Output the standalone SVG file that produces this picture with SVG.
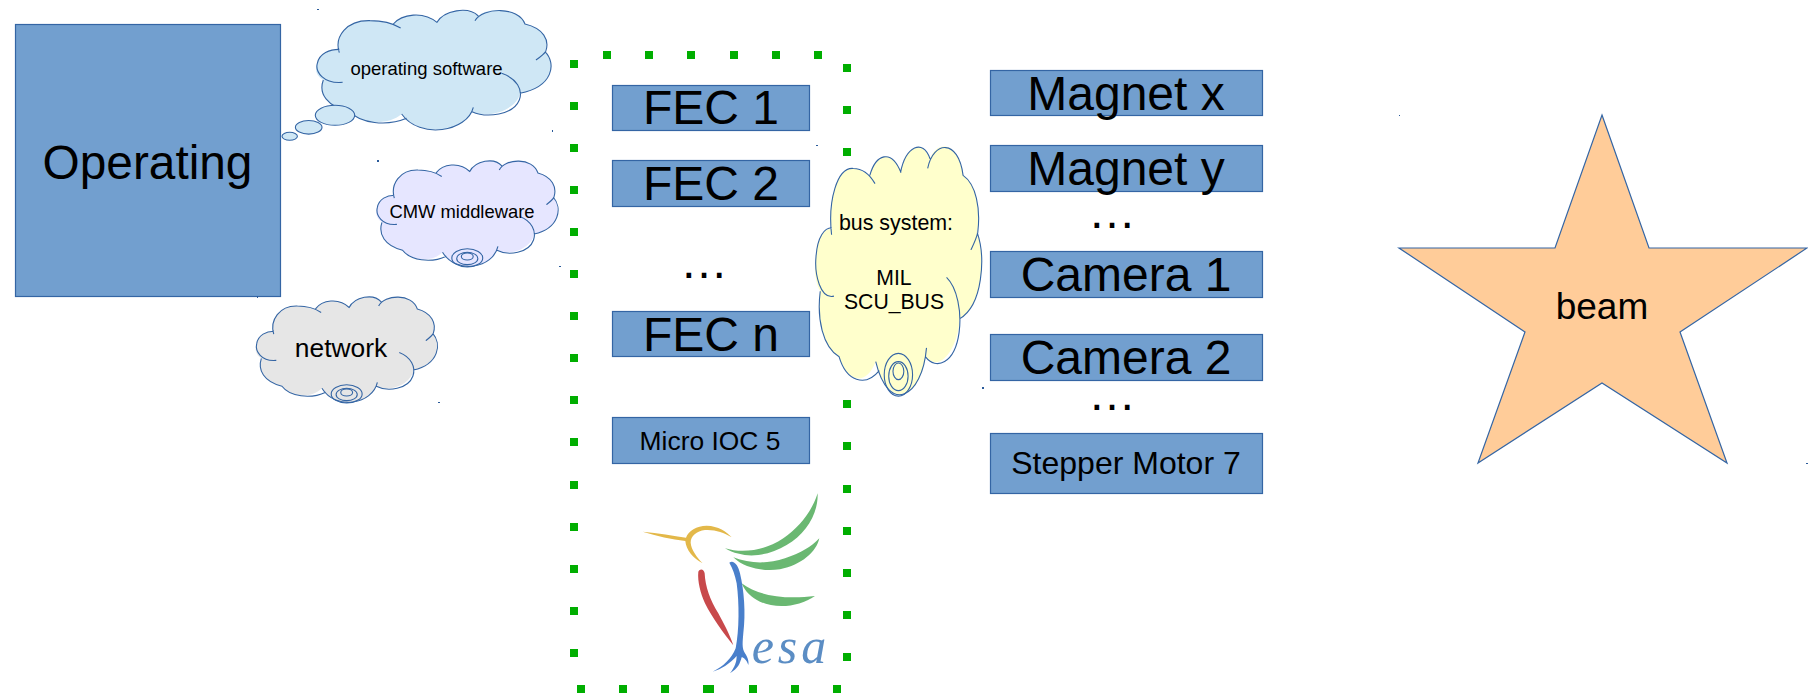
<svg xmlns="http://www.w3.org/2000/svg" width="1808" height="693" viewBox="0 0 1808 693">
<style>
text{font-family:"Liberation Sans",Arial,sans-serif;fill:#000;text-anchor:middle}
.box{fill:#729fcf;stroke:#3465a4;stroke-width:1.2}
.t48{font-size:48px}
.dot{fill:#00ae00}
.mark{fill:#2a5a9a}
.ln{fill:none;stroke:#3465a4;stroke-width:1.1;vector-effect:non-scaling-stroke}
.sh{fill:inherit;stroke:#3465a4;stroke-width:1.1;vector-effect:non-scaling-stroke}
</style>
<defs>
<g id="cloud">
<path stroke="none" d="M238,150C222,110 260,60 330,62C355,62 380,68 400,72C430,40 490,35 530,65C560,28 620,20 655,48C680,22 775,20 795,72C850,85 870,120 855,155C890,190 880,260 780,280C775,320 700,360 636,335C610,395 480,415 425,342C380,380 300,370 270,335C200,320 175,280 190,240C165,225 165,205 172,190C178,160 210,148 238,150Z"/>
<path class="ln" d="M238,158C222,110 260,60 330,62C360,62 395,68 422,84M400,72C425,42 490,32 532,68M530,68C552,30 625,18 655,48M645,62C668,22 775,18 795,72C850,85 870,120 857,155C850,165 838,173 828,180M855,155C890,190 880,260 780,280M725,220C770,235 790,270 778,300C760,345 680,355 636,335M640,322C622,395 480,420 425,342M440,355C380,380 300,370 270,335C200,320 175,280 190,240M248,247C190,252 165,215 172,190C178,160 210,148 238,148"/>
</g>
<g id="spiral">
<ellipse class="ln" cx="521" cy="361" rx="60" ry="31"/>
<ellipse class="ln" cx="521" cy="363" rx="41" ry="21"/>
<ellipse class="ln" cx="521" cy="356" rx="23" ry="12"/>
</g>
<filter id="soft" x="-10%" y="-10%" width="120%" height="120%"><feGaussianBlur stdDeviation="0.9"/></filter>
</defs>

<g id="operating"><rect class="box" x="15.5" y="24.5" width="265" height="272"/><text x="147.5" y="179" style="font-size:47.8px">Operating</text></g>

<g id="cloud-operating-software" fill="#cfe7f5">
<use href="#cloud" transform="translate(260 0) scale(.3333)"/>
<ellipse class="sh" cx="335" cy="115.3" rx="19.7" ry="10"/>
<ellipse class="sh" cx="308.7" cy="127.3" rx="13.3" ry="6.8"/>
<ellipse class="sh" cx="289.7" cy="136.3" rx="7.7" ry="4"/>
<text x="426.5" y="74.5" style="font-size:18.5px">operating software</text>
</g>
<g id="cloud-cmw" fill="#e6e6ff">
<use href="#cloud" transform="translate(377.3 160) scale(.2578 .294) translate(-172 -28)"/>
<use href="#spiral" transform="translate(377.3 160) scale(.2578 .294) translate(-172 -28)"/>
<text x="462" y="218" style="font-size:18.4px">CMW middleware</text>
</g>
<g id="cloud-network" fill="#e6e6e6">
<use href="#cloud" transform="translate(256.7 296) scale(.2578 .294) translate(-172 -28)"/>
<use href="#spiral" transform="translate(256.7 296) scale(.2578 .294) translate(-172 -28)"/>
<text x="341" y="357" style="font-size:26.4px">network</text>
</g>

<g id="fec-1"><rect class="box" x="612.5" y="85.5" width="197" height="45"/><text class="t48" x="711" y="124">FEC 1</text></g>
<g id="fec-2"><rect class="box" x="612.5" y="160.5" width="197" height="46"/><text class="t48" x="711" y="200">FEC 2</text></g>
<text class="t48" x="704" y="278">…</text>
<g id="fec-n"><rect class="box" x="612.5" y="311.5" width="197" height="45"/><text class="t48" x="711" y="351">FEC n</text></g>
<g id="micro-ioc"><rect class="box" x="612.5" y="417.5" width="197" height="46"/><text x="710" y="450" style="font-size:26.4px">Micro IOC 5</text></g>

<g id="container-dots" class="dot">
<rect x="570" y="60" width="8" height="8"/><rect x="570" y="102" width="8" height="8"/><rect x="570" y="144" width="8" height="8"/><rect x="570" y="186" width="8" height="8"/><rect x="570" y="228" width="8" height="8"/><rect x="570" y="270" width="8" height="8"/><rect x="570" y="312" width="8" height="8"/><rect x="570" y="354" width="8" height="8"/><rect x="570" y="396" width="8" height="8"/><rect x="570" y="438" width="8" height="8"/><rect x="570" y="481" width="8" height="8"/><rect x="570" y="523" width="8" height="8"/><rect x="570" y="565" width="8" height="8"/><rect x="570" y="607" width="8" height="8"/><rect x="570" y="649" width="8" height="8"/>
<rect x="843" y="64" width="8" height="8"/><rect x="843" y="106" width="8" height="8"/><rect x="843" y="148" width="8" height="8"/><rect x="843" y="190" width="8" height="8"/><rect x="843" y="232" width="8" height="8"/><rect x="843" y="274" width="8" height="8"/><rect x="843" y="316" width="8" height="8"/><rect x="843" y="358" width="8" height="8"/><rect x="843" y="400" width="8" height="8"/><rect x="843" y="442" width="8" height="8"/><rect x="843" y="485" width="8" height="8"/><rect x="843" y="527" width="8" height="8"/><rect x="843" y="569" width="8" height="8"/><rect x="843" y="611" width="8" height="8"/><rect x="843" y="653" width="8" height="8"/>
<rect x="603" y="51" width="8" height="8"/><rect x="645" y="51" width="8" height="8"/><rect x="687" y="51" width="8" height="8"/><rect x="730" y="51" width="8" height="8"/><rect x="772" y="51" width="8" height="8"/><rect x="814" y="51" width="8" height="8"/>
<rect x="577" y="685" width="8" height="8"/><rect x="619" y="685" width="8" height="8"/><rect x="661" y="685" width="8" height="8"/><rect x="703" y="685" width="11" height="8"/><rect x="749" y="685" width="8" height="8"/><rect x="791" y="685" width="8" height="8"/><rect x="833" y="685" width="8" height="8"/>
</g>

<g id="fesa-logo">
<g transform="translate(560 470) scale(.3333)" filter="url(#soft)" stroke="none">
<path fill="#e3b84a" d="M248,185C295,190 340,197 378,203C385,182 410,168 440,167C475,168 500,185 515,202C490,187 465,178 435,180C410,183 392,198 392,218C394,240 410,260 428,280C400,265 378,240 376,213C335,208 290,198 248,185Z"/>
<path fill="#6ab872" d="M773,70C775,130 740,190 680,225C625,258 555,270 495,235C550,252 620,240 670,205C720,170 755,125 773,70Z"/>
<path fill="#6ab872" d="M778,205C770,245 725,285 660,298C605,306 550,292 520,262C570,282 625,282 675,265C720,250 755,230 778,205Z"/>
<path fill="#6ab872" d="M545,340C590,375 670,390 765,378C720,410 650,418 600,395C575,383 555,365 545,340Z"/>
<path fill="#c8484c" d="M415,305C420,295 432,297 434,310C436,350 450,390 475,430C490,458 510,495 520,526C490,490 455,440 435,400C422,370 412,335 415,305Z"/>
<path fill="#4a7fcb" d="M508,278C520,268 535,285 540,310C552,360 558,430 550,490C548,515 545,535 555,550C562,560 568,575 565,585C560,570 550,562 545,562C540,580 535,595 510,610C525,590 530,575 530,558C510,580 485,598 458,605C490,590 515,565 527,535C538,480 538,400 530,340C525,315 518,295 508,278Z"/>
</g>
<text x="791" y="663" style="font-family:'Liberation Serif',serif;font-style:italic;font-size:50px;fill:#5b8dc4;letter-spacing:4px">esa</text>
</g>

<g id="magnet-x"><rect class="box" x="990.5" y="70.5" width="272" height="45"/><text class="t48" x="1126" y="110">Magnet x</text></g>
<g id="magnet-y"><rect class="box" x="990.5" y="145.5" width="272" height="46"/><text class="t48" x="1126" y="185">Magnet y</text></g>
<text class="t48" x="1112" y="228">…</text>
<g id="camera-1"><rect class="box" x="990.5" y="251.5" width="272" height="46"/><text class="t48" x="1126" y="291">Camera 1</text></g>
<g id="camera-2"><rect class="box" x="990.5" y="334.5" width="272" height="46"/><text class="t48" x="1126" y="374">Camera 2</text></g>
<text class="t48" x="1112" y="410">…</text>
<g id="stepper"><rect class="box" x="990.5" y="433.5" width="272" height="60"/><text x="1126" y="474" style="font-size:32px">Stepper Motor 7</text></g>

<g id="cloud-bus" fill="#ffffcc">
<use href="#cloud" transform="translate(816 145) scale(.2361 .69) translate(-172 -28)"/>
<use href="#spiral" transform="translate(816 145) scale(.2361 .69) translate(-172 -28)"/>
<text x="896" y="230" style="font-size:21.4px">bus system:</text>
<text x="894" y="285" style="font-size:21.2px">MIL</text>
<text x="894" y="309" style="font-size:21.2px">SCU_BUS</text>
</g>

<g id="beam"><polygon points="1602,115 1649,248 1807,248 1680,332 1727,463 1602,383 1478,463 1525,332 1399,248 1555,248" fill="#ffcc99" stroke="#3465a4" stroke-width="1.2"/><text x="1602" y="319" style="font-size:37px">beam</text></g>

<g id="marks" class="mark">
<rect x="317" y="9" width="2" height="1"/><rect x="377" y="160" width="2" height="2"/><rect x="552" y="130" width="1" height="2"/><rect x="438" y="402" width="2" height="1"/><rect x="559" y="266" width="2" height="1"/><rect x="257" y="296" width="1" height="2"/><rect x="816" y="145" width="2" height="1"/><rect x="982" y="387" width="2" height="2"/><rect x="1399" y="115" width="1" height="1"/><rect x="1806" y="463" width="2" height="1"/>
</g>
</svg>
